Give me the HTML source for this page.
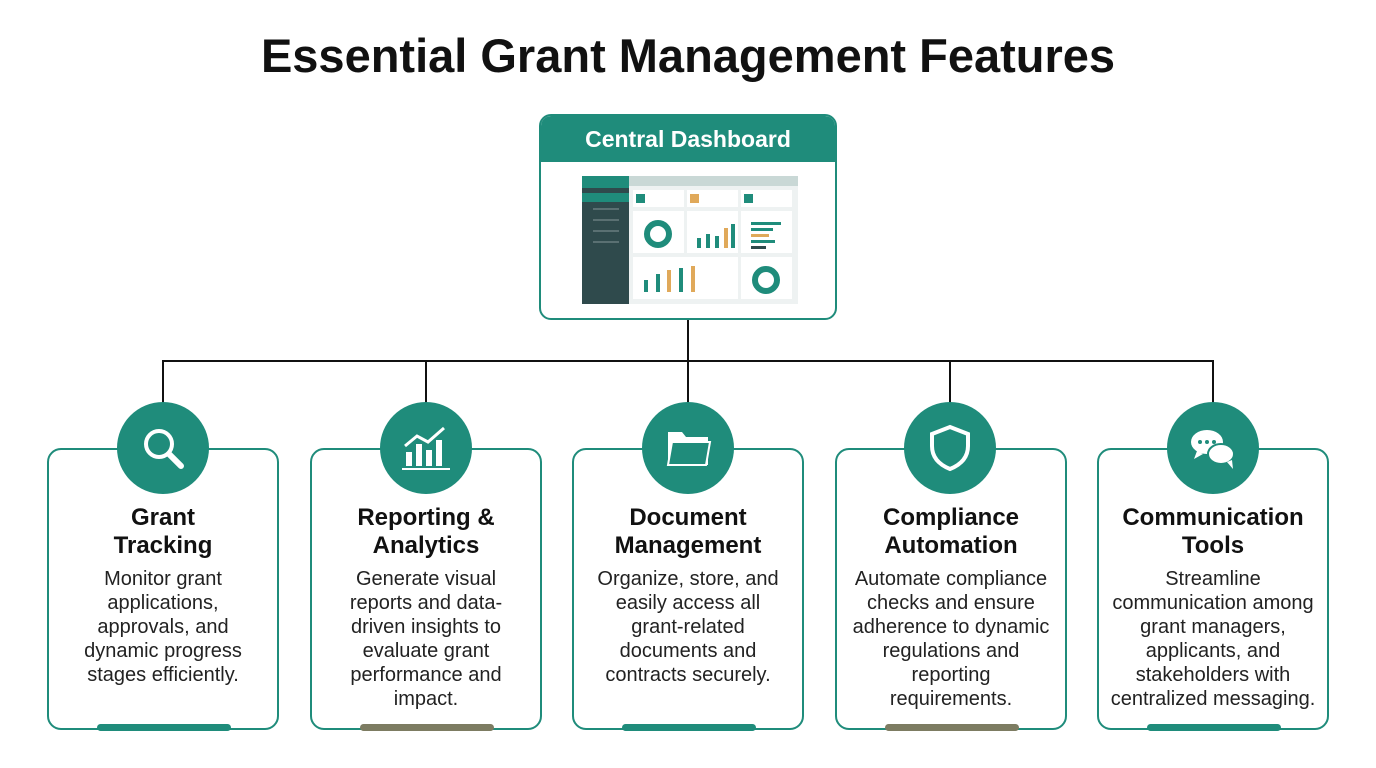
<!DOCTYPE html>
<html><head><style>
body{margin:0;width:1376px;height:768px;background:#fff;position:relative;overflow:hidden;font-family:"Liberation Sans",sans-serif}
.t{position:absolute;left:0;width:1376px;top:28px;text-align:center;font-weight:bold;font-size:47px;color:#111}
.card{position:absolute;top:448px;width:232px;height:282px;border:2.5px solid #1f8c7b;border-radius:14px;background:#fff;text-align:center;box-sizing:border-box}
.card h3{margin:54px 0 0;font-size:24px;line-height:28px;color:#111}
.card p{margin:7px auto 0;width:192px;font-size:20px;line-height:24px;color:#222}
.bar{position:absolute;bottom:-3px;left:48px;width:134px;height:7px;border-radius:4px;background:#1f8c7b}
.ol{background:#7d7c62}
.circ{position:absolute;top:402px;width:92px;height:92px;border-radius:50%;background:#1f8c7b}
.circ svg{position:absolute;left:22px;top:22px}
.ln{position:absolute;background:#111}
</style></head><body>
<div class="t">Essential Grant Management Features</div>
<div class="ln" style="left:687px;top:320px;width:2px;height:42px"></div>
<div class="ln" style="left:162px;top:360px;width:1052px;height:2px"></div>
<div class="ln" style="left:162px;top:360px;width:2px;height:44px"></div>
<div class="ln" style="left:425px;top:360px;width:2px;height:44px"></div>
<div class="ln" style="left:687px;top:360px;width:2px;height:44px"></div>
<div class="ln" style="left:949px;top:360px;width:2px;height:44px"></div>
<div class="ln" style="left:1212px;top:360px;width:2px;height:44px"></div>

<div style="position:absolute;left:539px;top:114px;width:298px;height:206px;border:2.5px solid #1f8c7b;border-radius:12px;box-sizing:border-box;overflow:hidden;background:#fff">
<div style="background:#1f8c7b;height:46px;color:#fff;font-weight:bold;font-size:23px;line-height:46px;text-align:center">Central Dashboard</div>
<svg width="298" height="160" style="position:absolute;left:0;top:46px">
<rect x="41" y="14" width="216" height="128" fill="#eef2f2"/>
<rect x="41" y="14" width="216" height="10" fill="#c9d8d6"/>
<rect x="41" y="14" width="47" height="128" fill="#2f4a4c"/>
<rect x="41" y="14" width="47" height="12" fill="#1f8c7b"/>
<rect x="41" y="31" width="47" height="9" fill="#1f8c7b"/>
<rect x="52" y="46" width="26" height="2" fill="#5a7072"/><rect x="52" y="57" width="26" height="2" fill="#5a7072"/><rect x="52" y="68" width="26" height="2" fill="#5a7072"/><rect x="52" y="79" width="26" height="2" fill="#5a7072"/>
<rect x="92" y="28" width="51" height="17" fill="#fff"/><rect x="95" y="32" width="9" height="9" fill="#1f8c7b"/>
<rect x="146" y="28" width="51" height="17" fill="#fff"/><rect x="149" y="32" width="9" height="9" fill="#e0a95a"/>
<rect x="200" y="28" width="51" height="17" fill="#fff"/><rect x="203" y="32" width="9" height="9" fill="#1f8c7b"/>
<rect x="92" y="49" width="51" height="42" fill="#fff"/>
<circle cx="117" cy="72" r="11" fill="none" stroke="#1f8c7b" stroke-width="6"/>
<rect x="146" y="49" width="51" height="42" fill="#fff"/>
<rect x="156" y="76" width="4" height="10" fill="#1f8c7b"/><rect x="165" y="72" width="4" height="14" fill="#1f8c7b"/><rect x="174" y="74" width="4" height="12" fill="#1f8c7b"/><rect x="183" y="66" width="4" height="20" fill="#e0a95a"/><rect x="190" y="62" width="4" height="24" fill="#1f8c7b"/>
<rect x="200" y="49" width="51" height="42" fill="#fff"/>
<rect x="210" y="60" width="30" height="3" fill="#1f8c7b"/><rect x="210" y="66" width="22" height="3" fill="#1f8c7b"/><rect x="210" y="72" width="18" height="3" fill="#e0a95a"/><rect x="210" y="78" width="24" height="3" fill="#1f8c7b"/><rect x="210" y="84" width="15" height="3" fill="#2f4a4c"/>
<rect x="92" y="95" width="105" height="42" fill="#fff"/>
<rect x="103" y="118" width="4" height="12" fill="#1f8c7b"/><rect x="115" y="112" width="4" height="18" fill="#1f8c7b"/><rect x="126" y="108" width="4" height="22" fill="#e0a95a"/><rect x="138" y="106" width="4" height="24" fill="#1f8c7b"/><rect x="150" y="104" width="4" height="26" fill="#e0a95a"/>
<rect x="200" y="95" width="51" height="42" fill="#fff"/>
<circle cx="225" cy="118" r="11" fill="none" stroke="#1f8c7b" stroke-width="6"/>
</svg>
</div>

<div class="card" style="left:47px"><h3>Grant<br>Tracking</h3><p>Monitor grant<br>applications,<br>approvals, and<br>dynamic progress<br>stages efficiently.</p><div class="bar"></div></div>
<div class="card" style="left:310px"><h3>Reporting &amp;<br>Analytics</h3><p>Generate visual<br>reports and data-<br>driven insights to<br>evaluate grant<br>performance and<br>impact.</p><div class="bar ol"></div></div>
<div class="card" style="left:572px"><h3>Document<br>Management</h3><p>Organize, store, and<br>easily access all<br>grant-related<br>documents and<br>contracts securely.</p><div class="bar"></div></div>
<div class="card" style="left:835px"><h3>Compliance<br>Automation</h3><p style="width:215px">Automate compliance<br>checks and ensure<br>adherence to dynamic<br>regulations and<br>reporting<br>requirements.</p><div class="bar ol"></div></div>
<div class="card" style="left:1097px"><h3>Communication<br>Tools</h3><p style="width:222px">Streamline<br>communication among<br>grant managers,<br>applicants, and<br>stakeholders with<br>centralized messaging.</p><div class="bar"></div></div>

<div class="circ" style="left:117px"><svg width="48" height="48"><circle cx="20" cy="20" r="13" fill="none" stroke="#fff" stroke-width="4"/><line x1="30" y1="30" x2="42" y2="42" stroke="#fff" stroke-width="6" stroke-linecap="round"/></svg></div>
<div class="circ" style="left:380px"><svg width="48" height="48"><rect x="4" y="28" width="6" height="14" fill="#fff"/><rect x="14" y="20" width="6" height="22" fill="#fff"/><rect x="24" y="26" width="6" height="16" fill="#fff"/><rect x="34" y="16" width="6" height="26" fill="#fff"/><polyline points="3,22 15,12 26,18 42,4" fill="none" stroke="#fff" stroke-width="3"/><line x1="0" y1="45" x2="48" y2="45" stroke="#fff" stroke-width="2"/></svg></div>
<div class="circ" style="left:642px"><svg width="48" height="48"><path d="M4 8h14l4 5h22v28H4z" fill="#fff"/><path d="M8 18h38l-4 23H4z" fill="#1f8c7b" stroke="#fff" stroke-width="2"/></svg></div>
<div class="circ" style="left:904px"><svg width="48" height="48"><path d="M24 3l18 7v12c0 12-8 19-18 23C14 41 6 34 6 22V10z" fill="none" stroke="#fff" stroke-width="4"/><path d="M24 11l11 4v8c0 8-5 13-11 15z" fill="#1f8c7b"/></svg></div>
<div class="circ" style="left:1167px"><svg width="48" height="48"><ellipse cx="18" cy="18" rx="16" ry="12" fill="#fff"/><path d="M8 27l-3 8 9-5z" fill="#fff"/><circle cx="11" cy="18" r="2" fill="#1f8c7b"/><circle cx="18" cy="18" r="2" fill="#1f8c7b"/><circle cx="25" cy="18" r="2" fill="#1f8c7b"/><ellipse cx="32" cy="30" rx="13" ry="10" fill="#fff" stroke="#1f8c7b" stroke-width="2"/><path d="M38 38l6 7-1-9z" fill="#fff"/></svg></div>
</body></html>
